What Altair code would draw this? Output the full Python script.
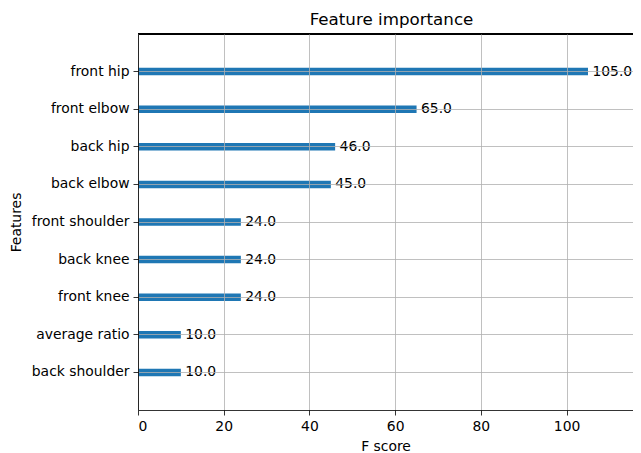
import altair as alt
import pandas as pd

features = ["front hip", "front elbow", "back hip", "back elbow", "front shoulder",
            "back knee", "front knee", "average ratio", "back shoulder"]
scores = [105.0, 65.0, 46.0, 45.0, 24.0, 24.0, 24.0, 10.0, 10.0]
x_ticks = [0, 20, 40, 60, 80, 100]

df = pd.DataFrame({"feature": features, "score": scores})

FONT = "DejaVu Sans"
W, H = 495, 376

y_enc = alt.Y("feature:N", sort=features, title="Features",
              scale=alt.Scale(paddingInner=0.8, paddingOuter=0.9),
              axis=alt.Axis(bandPosition=0.5, grid=True, gridColor="#b0b0b0", gridWidth=0.8,
                            zindex=1, tickColor="black", tickSize=5, tickWidth=0.8,
                            domainColor="black", domainWidth=0.8,
                            labelFontSize=13.9, labelColor="black", labelPadding=4,
                            titleFontSize=13.9, titleColor="black", titleFontWeight="normal",
                            titlePadding=8))
x_enc = alt.X("score:Q", title="F score",
              scale=alt.Scale(domain=[0, 115.5], nice=False, zero=True),
              axis=alt.Axis(values=x_ticks, grid=True, gridColor="#b0b0b0",
                            gridWidth=0.8, zindex=1, tickColor="black", tickSize=5, tickWidth=0.8,
                            domainColor="black", domainWidth=0.8,
                            labelFontSize=13.9, labelColor="black", labelPadding=4,
                            titleFontSize=13.9, titleColor="black", titleFontWeight="normal",
                            titlePadding=7))

bars = alt.Chart(df).mark_bar(color="#1f77b4").encode(x=x_enc, y=y_enc)
labels = alt.Chart(df).mark_text(align="left", baseline="middle", dx=4.4,
                                 fontSize=13.9, font=FONT, color="black").encode(
    x="score:Q", y=alt.Y("feature:N", sort=features),
    text=alt.Text("score:Q", format=".1f"))
top_spine = alt.Chart(df).mark_rule(color="black", strokeWidth=0.8).encode(
    x=alt.value(0), x2=alt.value(W + 10), y=alt.value(0))

chart = (bars + labels + top_spine).properties(
    width=W, height=H,
    title=alt.TitleParams("Feature importance", fontSize=16.7, fontWeight="normal",
                          color="black", font=FONT, offset=5, dx=6),
    autosize=alt.AutoSizeParams(type="none"),
    padding={"left": 130, "top": 26, "right": 0, "bottom": 44},
).configure(font=FONT).configure_view(stroke=None).configure_axis(
    labelFont=FONT, titleFont=FONT)

chart.save("out.html", embed_options={"renderer": "svg", "actions": False})
